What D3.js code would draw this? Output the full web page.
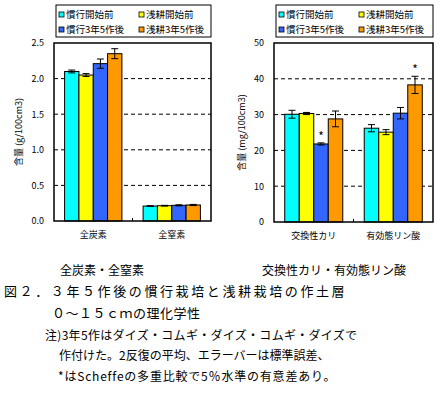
<!DOCTYPE html>
<html>
<head>
<meta charset="utf-8">
<script src="https://cdn.jsdelivr.net/npm/d3@7"></script>
<style>
  body { margin: 0; background: #fff; }
  svg text { font-family: "Noto Sans CJK JP", "DejaVu Sans", sans-serif; }
</style>
</head>
<body>
<svg id="chart" width="440" height="395"></svg>
<script>
// data
const seriesNames = ['慣行開始前', '浅耕開始前', '慣行3年5作後', '浅耕3年5作後'];
const seriesColors = ['#00ffff', '#ffff00', '#3366ff', '#ff9900'];

const leftCats = ['全炭素', '全窒素'];
const leftMeans = [[2.10, 2.05, 2.21, 2.35], [0.21, 0.215, 0.22, 0.225]];
const leftErrs = [[0.02, 0.02, 0.065, 0.07], [0.005, 0.005, 0.008, 0.008]];
const leftTicks = [0, 0.5, 1.0, 1.5, 2.0, 2.5];

const rightCats = ['交換性カリ', '有効態リン酸'];
const rightMeans = [[30.1, 30.3, 21.8, 28.8], [26.2, 25.1, 30.4, 38.3]];
const rightErrs = [[1.1, 0.3, 0.3, 2.2], [1.0, 0.7, 1.6, 2.4]];
const rightTicks = [0, 10, 20, 30, 40, 50];
const rightStars = [[false, false, true, false], [false, false, false, true]];

const svg = d3.select('#chart');

function drawPanel(opt) {
    const g = svg.append('g');
    const x = d3.scaleBand().domain(opt.cats).range([opt.x0, opt.x1]);
    const y = d3.scaleLinear().domain([0, opt.ticks[opt.ticks.length - 1]]).range([opt.y1, opt.y0]);
    const inner = d3.scaleBand().domain(d3.range(4)).range([0, x.bandwidth() * 0.73]);
    const off = (x.bandwidth() - x.bandwidth() * 0.73) / 2;

    // dashed grid
    g.selectAll('line.grid')
        .data(opt.ticks.slice(1, -1))
        .enter().append('line')
        .attr('x1', opt.x0).attr('x2', opt.x1)
        .attr('y1', d => y(d)).attr('y2', d => y(d))
        .attr('stroke', '#000').attr('stroke-width', 1)
        .attr('stroke-dasharray', '4,3');

    // bars
    opt.cats.forEach((c, ci) => {
        const grp = g.append('g').attr('transform', `translate(${x(c) + off},0)`);
        grp.selectAll('rect')
            .data(opt.means[ci])
            .enter().append('rect')
            .attr('x', (d, i) => inner(i))
            .attr('y', d => y(d))
            .attr('width', inner.bandwidth())
            .attr('height', d => y(0) - y(d))
            .attr('fill', (d, i) => seriesColors[i])
            .attr('stroke', '#000').attr('stroke-width', 1);
        // error bars
        opt.means[ci].forEach((m, i) => {
            const e = opt.errs[ci][i];
            const cx = inner(i) + inner.bandwidth() / 2;
            grp.append('line').attr('x1', cx).attr('x2', cx)
                .attr('y1', y(m - e)).attr('y2', y(m + e))
                .attr('stroke', '#000').attr('stroke-width', 1);
            [m - e, m + e].forEach(v => {
                grp.append('line').attr('x1', cx - 3.5).attr('x2', cx + 3.5)
                    .attr('y1', y(v)).attr('y2', y(v))
                    .attr('stroke', '#000').attr('stroke-width', 1);
            });
            if (opt.stars && opt.stars[ci][i]) {
                grp.append('text').attr('x', cx).attr('y', y(m + e) - 2)
                    .attr('text-anchor', 'middle').attr('font-size', 12)
                    .attr('fill', '#000').text('*');
            }
        });
    });

    // frame
    g.append('rect')
        .attr('x', opt.x0).attr('y', opt.y0)
        .attr('width', opt.x1 - opt.x0).attr('height', opt.y1 - opt.y0)
        .attr('fill', 'none').attr('stroke', '#000').attr('stroke-width', 1.5);

    // mid tick
    g.append('line').attr('x1', (opt.x0 + opt.x1) / 2).attr('x2', (opt.x0 + opt.x1) / 2)
        .attr('y1', opt.y1).attr('y2', opt.y1 - 3).attr('stroke', '#000');

    // y axis labels
    const yAxis = d3.axisLeft(y).tickValues(opt.ticks).tickSize(0).tickPadding(10)
        .tickFormat(opt.fmt);
    const ax = g.append('g').attr('transform', `translate(${opt.x0},0)`).call(yAxis);
    ax.select('.domain').remove();
    ax.selectAll('text').attr('font-size', 9).attr('font-family', '"Liberation Sans", Arial, sans-serif');

    // category labels
    g.selectAll('text.cat')
        .data(opt.cats)
        .enter().append('text')
        .attr('x', d => x(d) + x.bandwidth() / 2)
        .attr('y', opt.y1 + 17)
        .attr('text-anchor', 'middle').attr('font-size', 9)
        .text(d => d);

    // y title
    g.append('text')
        .attr('transform', `translate(${opt.titleX},${(opt.y0 + opt.y1) / 2}) rotate(-90)`)
        .attr('text-anchor', 'middle').attr('font-size', 9)
        .text(opt.yTitle);

    // legend
    const lg = g.append('g');
    lg.append('rect').attr('x', opt.x0 + 2).attr('y', 5)
        .attr('width', opt.x1 - opt.x0 - 2).attr('height', 32)
        .attr('fill', '#fff').attr('stroke', '#000').attr('stroke-width', 1);
    seriesNames.forEach((s, i) => {
        const lx = opt.x0 + 5 + (i % 2) * opt.legCol;
        const ly = 15 + Math.floor(i / 2) * 15;
        lg.append('rect').attr('x', lx).attr('y', ly - 3).attr('width', 5).attr('height', 5)
            .attr('fill', seriesColors[i]).attr('stroke', '#000').attr('stroke-width', 0.8);
        lg.append('text').attr('x', lx + 7).attr('y', ly + 3)
            .attr('font-size', 9.5).text(s);
    });
}

drawPanel({
    cats: leftCats, means: leftMeans, errs: leftErrs, ticks: leftTicks,
    x0: 54, x1: 211, y0: 43, y1: 221, fmt: d3.format('.1f'),
    yTitle: '含量 (g/100cm3)', titleX: 22, legCol: 80
});
drawPanel({
    cats: rightCats, means: rightMeans, errs: rightErrs, ticks: rightTicks, stars: rightStars,
    x0: 274, x1: 433, y0: 43, y1: 222, fmt: d3.format('d'),
    yTitle: '含量 (mg/100cm3)', titleX: 245, legCol: 80
});

// caption text
const cap = [
    { t: '全炭素・全窒素', x: 60, y: 275, s: 12 },
    { t: '交換性カリ・有効態リン酸', x: 262, y: 275, s: 12 },
    { t: '図２．３年５作後の慣行栽培と浅耕栽培の作土層', x: 4, y: 296, s: 13, ls: 2.6 },
    { t: '０～１５ｃｍの理化学性', x: 52, y: 318, s: 13, ls: 0.5 },
    { t: '注)3年5作はダイズ・コムギ・ダイズ・コムギ・ダイズで', x: 45, y: 340, s: 12, ls: 0.3 },
    { t: '作付けた。2反復の平均、エラーバーは標準誤差、', x: 59, y: 360, s: 12, ls: 0 },
    { t: '*はScheffeの多重比較で5％水準の有意差あり。', x: 58, y: 381, s: 12, ls: 0.8 }
];
svg.selectAll('text.cap')
    .data(cap)
    .enter().append('text')
    .attr('x', d => d.x).attr('y', d => d.y)
    .attr('font-size', d => d.s)
    .attr('letter-spacing', d => d.ls || 0)
    .text(d => d.t);
</script>
</body>
</html>
